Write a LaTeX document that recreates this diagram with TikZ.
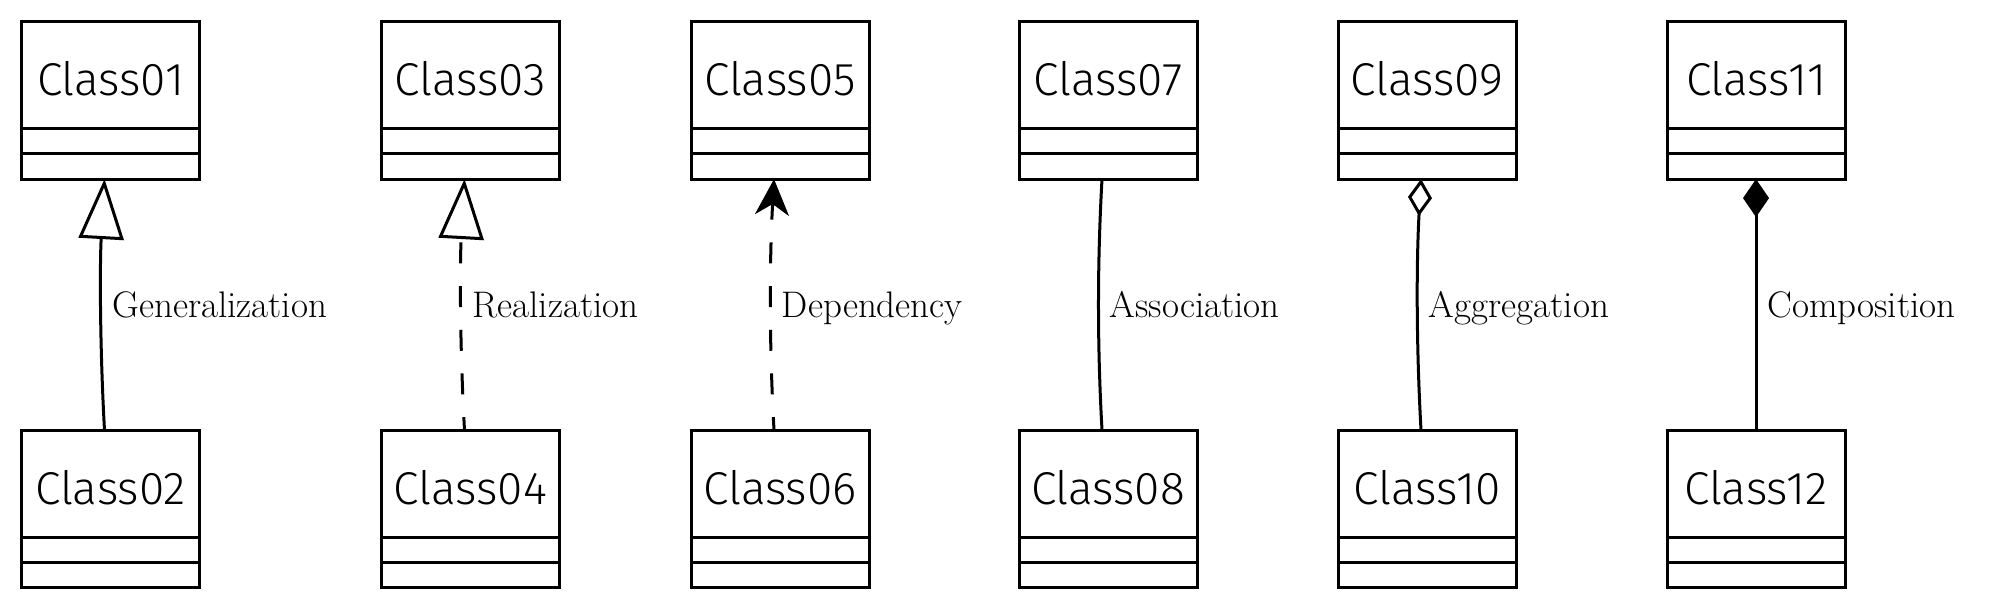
\documentclass[tikz,border=0pt]{standalone}
\usepackage{fontspec}
\newfontfamily\clsfont{Fira Sans Light}
\usetikzlibrary{arrows.meta}
\begin{document}
\begin{tikzpicture}[x=0.5pt,y=-0.5pt, line width=1.5pt,
  clsbox/.style={draw, rectangle, minimum width=89pt, minimum height=78.9pt, inner sep=0pt, outer sep=0pt},
  clsname/.style={anchor=base, inner sep=0pt, font=\clsfont\fontsize{23}{27}\selectfont},
  rel/.style={font=\fontsize{18.5}{22}\selectfont, anchor=base west, inner sep=0pt, xshift=5pt, yshift=-6.5pt},
  dashedrel/.style={dash pattern=on 10.5pt off 11.35pt, dash phase=4pt},
  gentip/.style={-{Triangle[open, length=30pt, width=22.5pt, fill=white]}},
  deptip/.style={-{Stealth[length=18pt, width=17pt, inset=5.5pt]}},
  aggtip/.style={-{Diamond[open, length=18.5pt, width=12pt, fill=white]}},
  comptip/.style={-{Diamond[length=19pt, width=13pt]}}
]
\useasboundingbox (0,0) rectangle (1989,603);
% boxes
\node[clsbox] (c01) at (110.5,100.2) {};
\node[clsbox] (c02) at (110.5,509) {};
\node[clsbox] (c03) at (470.5,100.2) {};
\node[clsbox] (c04) at (470.5,509) {};
\node[clsbox] (c05) at (780,100.2) {};
\node[clsbox] (c06) at (780,509) {};
\node[clsbox] (c07) at (1108,100.2) {};
\node[clsbox] (c08) at (1108,509) {};
\node[clsbox] (c09) at (1427,100.2) {};
\node[clsbox] (c10) at (1427,509) {};
\node[clsbox] (c11) at (1756,100.2) {};
\node[clsbox] (c12) at (1756,509) {};
\foreach \n in {01,02,03,04,05,06,07,08,09,10,11,12} {
  \draw ([yshift=-53.7pt]c\n.north west) -- ([yshift=-53.7pt]c\n.north east);
  \draw ([yshift=-66.25pt]c\n.north west) -- ([yshift=-66.25pt]c\n.north east);
  \node[clsname] (n\n) at ([yshift=-37pt]c\n.north) {Class\n};
}
% connectors
\draw[gentip] ([xshift=-3pt]c02.north) .. controls +(-4.7,-84) and +(-4.7,84) .. ([xshift=-3pt]c01.south) node[rel, pos=0.5] (l1) {Generalization};
\draw[gentip, dashedrel] ([xshift=-3pt]c04.north) .. controls +(-4.7,-84) and +(-4.7,84) .. ([xshift=-3pt]c03.south) node[rel, pos=0.5] (l2) {Realization};
\draw[deptip, dashedrel] ([xshift=-3pt]c06.north) .. controls +(-4.7,-84) and +(-4.7,84) .. ([xshift=-3pt]c05.south) node[rel, pos=0.5] (l3) {Dependency};
\draw ([xshift=-3pt]c08.north) .. controls +(-4.7,-84) and +(-4.7,84) .. ([xshift=-3pt]c07.south) node[rel, pos=0.5] (l4) {Association};
\draw[aggtip] ([xshift=-3pt]c10.north) .. controls +(-4.7,-84) and +(-4.7,84) .. ([xshift=-3pt]c09.south) node[rel, pos=0.5] (l5) {Aggregation};
\draw[comptip] (c12.north) -- (c11.south) node[rel, pos=0.5] (l6) {Composition};
\end{tikzpicture}
\end{document}
